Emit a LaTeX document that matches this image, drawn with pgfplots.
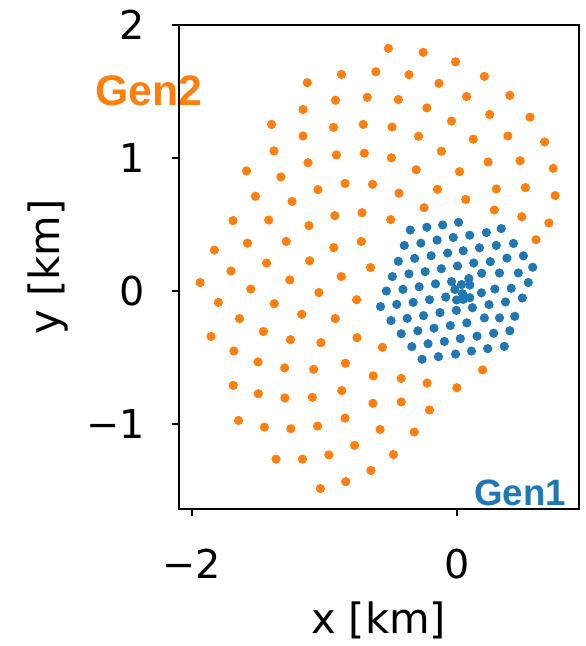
\documentclass[border=0pt]{standalone}
\usepackage{pgfplots}
\pgfplotsset{compat=1.18}
\usepackage{fontspec}
\setmainfont{DejaVu Sans}
\newfontfamily\genfont{Liberation Sans}
\definecolor{tabblue}{HTML}{1F77B4}
\definecolor{taborange}{HTML}{FF7F0E}
\begin{document}
\begin{tikzpicture}
\path (-90pt,-66.5pt) rectangle (205pt,256.5pt);
\node[text=taborange, font=\genfont\bfseries\fontsize{21.5}{24}\selectfont, inner sep=0pt] at (-15pt,210.5pt) {Gen2};
\begin{axis}[
  scale only axis,
  width=201.5pt, height=244pt,
  xmin=-2.098, xmax=0.914, ymin=-1.642, ymax=2.0,
  axis line style={line width=1pt},
  tick align=outside,
  major tick length=3.5pt,
  tick style={line width=1pt, black},
  xtick pos=bottom, ytick pos=left,
  xtick={-2,0}, xticklabels={−2,0},
  ytick={-1,0,1,2}, yticklabels={−1,0,1,2},
  ticklabel style={font=\fontsize{20}{24}\selectfont, inner sep=0pt},
  xticklabel shift=16.5pt,
  yticklabel shift=13.2pt,
  xlabel={x [km]}, ylabel={y [km]},
  label style={font=\fontsize{21}{25}\selectfont},
  xlabel style={at={(axis description cs:0.5,-0.2305)}, anchor=center},
  ylabel style={at={(axis description cs:-0.3263,0.5)}, anchor=center},
  clip=false,
]
\addplot[only marks, mark=*, mark size=2.1pt, color=taborange, mark options={draw=none, fill=taborange}] coordinates {
(-0.519,1.823) (-0.257,1.793) (-0.013,1.722) (-0.872,1.627) (-0.613,1.647) (-0.364,1.625) (0.204,1.612) (-1.129,1.565) (-0.138,1.560)
(-0.917,1.433) (-0.678,1.455) (-0.444,1.438) (0.070,1.460) (0.396,1.470) (-1.161,1.363) (-0.229,1.375) (0.244,1.326) (0.548,1.306)
(-1.398,1.251) (-0.932,1.229) (-0.708,1.251) (-0.491,1.231) (-0.043,1.276) (-1.161,1.164) (-0.291,1.162) (0.120,1.140) (0.381,1.164)
(0.658,1.119) (-1.380,1.052) (-0.910,1.022) (-0.700,1.035) (-0.496,1.000) (-0.120,1.050) (-1.124,0.963) (0.232,0.968) (0.473,0.978)
(0.722,0.920) (-1.587,0.901) (-1.328,0.856) (-0.309,0.910) (0.017,0.896) (-0.845,0.808) (-0.638,0.801) (-1.049,0.761) (-0.439,0.734)
(-0.149,0.763) (0.294,0.766) (0.513,0.776) (0.737,0.716) (-1.520,0.711) (-1.244,0.672) (0.064,0.687) (-0.250,0.625) (-1.689,0.528)
(-1.420,0.532) (-0.922,0.565) (-0.717,0.587) (-0.501,0.535) (0.279,0.607) (0.486,0.557) (0.690,0.510) (-1.117,0.490) (-1.580,0.358)
(-1.288,0.371) (-0.930,0.325) (-0.723,0.371) (0.593,0.384) (-1.829,0.306) (-1.436,0.209) (-1.111,0.226) (-0.653,0.175) (-1.704,0.149)
(-1.936,0.062) (-1.261,0.082) (-0.874,0.107) (-1.555,0.013) (-1.042,-0.013) (-0.758,-0.067) (-1.799,-0.087) (-1.378,-0.097)
(-1.171,-0.177) (-0.919,-0.209) (-1.640,-0.209) (-1.854,-0.343) (-1.460,-0.306) (-1.256,-0.368) (-1.027,-0.390) (-0.755,-0.353)
(-0.564,-0.425) (-1.682,-0.453) (-1.500,-0.535) (-1.300,-0.580) (-1.081,-0.590) (-0.842,-0.545) (-0.633,-0.640) (-0.422,-0.659)
(-0.227,-0.694) (-0.003,-0.729) (0.191,-0.595) (-1.687,-0.711) (-1.498,-0.774) (-1.298,-0.806) (-1.091,-0.801) (-0.870,-0.751)
(-0.635,-0.846) (-0.422,-0.836) (-0.209,-0.896) (-1.647,-0.975) (-1.453,-1.025) (-1.253,-1.037) (-1.052,-1.017) (-0.845,-0.957)
(-0.581,-1.043) (-0.324,-1.062) (-0.773,-1.162) (-0.481,-1.231) (-1.365,-1.266) (-1.166,-1.266) (-0.967,-1.234) (-0.650,-1.351)
(-0.840,-1.435) (-1.031,-1.487)
};
\addplot[only marks, mark=*, mark size=2.1pt, color=tabblue, mark options={draw=none, fill=tabblue}] coordinates {
(-0.354,0.457) (-0.229,0.478) (-0.110,0.495) (0.010,0.515) (-0.399,0.341) (-0.274,0.358) (-0.152,0.381) (-0.030,0.401) (0.094,0.418)
(0.219,0.438) (0.331,0.468) (-0.444,0.222) (-0.321,0.244) (-0.197,0.263) (-0.072,0.284) (0.045,0.301) (0.167,0.323) (0.294,0.341)
(0.423,0.356) (-0.489,0.107) (-0.364,0.127) (-0.242,0.144) (-0.120,0.166) (0.002,0.187) (0.124,0.209) (0.249,0.219) (0.374,0.246)
(0.498,0.263) (-0.534,-0.002) (-0.409,0.011) (-0.287,0.030) (-0.164,0.052) (-0.043,0.069) (0.184,0.132) (0.318,0.134) (0.460,0.134)
(0.568,0.177) (0.535,0.062) (0.283,0.013) (0.406,0.019) (0.182,-0.015) (-0.578,-0.119) (-0.456,-0.102) (-0.332,-0.087) (-0.209,-0.067)
(-0.087,-0.047) (-0.499,-0.224) (-0.377,-0.207) (-0.254,-0.187) (-0.130,-0.164) (-0.007,-0.147) (-0.422,-0.323) (-0.297,-0.301)
(-0.175,-0.281) (-0.052,-0.261) (-0.342,-0.420) (-0.220,-0.398) (-0.097,-0.381) (0.023,-0.360) (-0.265,-0.515) (-0.142,-0.495)
(-0.013,-0.476) (0.239,-0.104) (0.363,-0.084) (0.490,-0.054) (0.114,-0.127) (0.072,-0.241) (0.204,-0.204) (0.318,-0.204)
(0.433,-0.192) (0.149,-0.341) (0.274,-0.319) (0.396,-0.301) (0.107,-0.453) (0.229,-0.435) (0.354,-0.418)
(0.032,0.047) (0.087,0.092) (0.094,0.043) (-0.018,0.010) (0.040,-0.022) (0.045,-0.065) (0.094,-0.052) (-0.005,-0.069)
};
\end{axis}
\node[text=tabblue, font=\genfont\bfseries\fontsize{18.5}{22}\selectfont, inner sep=0pt] at (172pt,8pt) {Gen1};
\end{tikzpicture}
\end{document}
